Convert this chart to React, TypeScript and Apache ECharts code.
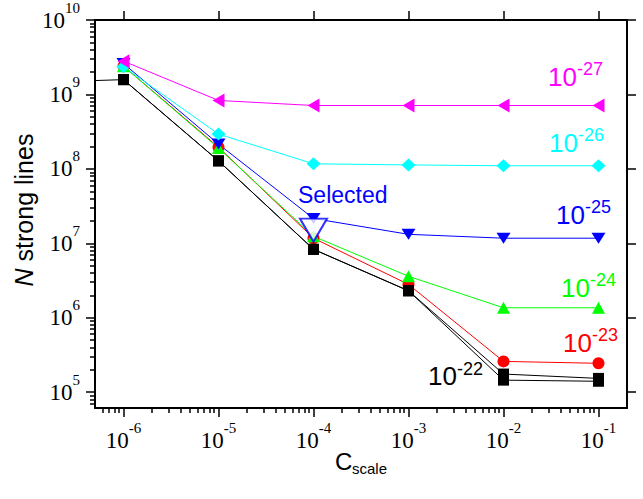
import React, { useEffect, useRef } from 'react';
import * as echarts from 'echarts';

// ---- data ----
const cScale = [1e-6, 1e-5, 1e-4, 1e-3, 1e-2, 1e-1];
const n27 = [2.8e9, 8.3e8, 7.1e8, 7.1e8, 7.1e8, 7.1e8];
const n26 = [2.36e9, 2.93e8, 1.17e8, 1.13e8, 1.1e8, 1.1e8];
const n25 = [2.6e9, 2.15e8, 2.15e7, 1.32e7, 1.17e7, 1.17e7];
const n24 = [2.4e9, 1.9e8, 1.24e7, 3.6e6, 1.36e6, 1.36e6];
const n23 = [2.4e9, 1.95e8, 1.17e7, 2.8e6, 2.59e5, 2.44e5];
const n22a = [1.58e9, 1.28e8, 8.3e6, 2.3e6, 1.75e5, 1.53e5];
const n22b = [1.58e9, 1.28e8, 8.3e6, 2.3e6, 1.45e5, 1.4e5];
const offAxisPoint = [1e-7, 1.44e9];
const selectedPoint = [1e-4, 1.5e7];

const xMajorExp = [-6, -5, -4, -3, -2, -1];
const yMajorExp = [5, 6, 7, 8, 9, 10];
const seriesLabels = ['-27', '-26', '-25', '-24', '-23', '-22'];

const lg = Math.log10;
const X_MIN = -6.3, X_MAX = -0.7, Y_MIN = 4.787, Y_MAX = 10;

function minorTicks(lo: number, hi: number) {
  const out: number[] = [];
  for (let n = Math.floor(lo); n < Math.ceil(hi); n++) {
    for (let k = 2; k <= 9; k++) {
      const v = n + lg(k);
      if (v > lo && v < hi) out.push(v);
    }
  }
  return out;
}

const SERIF = '"Liberation Serif", "Times New Roman", serif';
const SANS = '"Liberation Sans", Arial, sans-serif';

const LEFT_TRI = 'path://M0,5L10,0L10,10Z';
const DOWN_TRI = 'path://M0,0L10,0L5,10Z';

function toPts(ys: number[]) {
  return cScale.map((x, i) => [lg(x), lg(ys[i])]);
}

function lineSeries(name: string, pts: number[][], color: string, symbol: string, size: any) {
  return {
    type: 'line',
    name,
    data: pts,
    symbol,
    symbolSize: size,
    clip: true,
    showSymbol: true,
    itemStyle: { color },
    lineStyle: { color, width: 1 },
    emphasis: { disabled: true },
  };
}

const rich = {
  b: { fontFamily: SERIF, fontSize: 23, lineHeight: 40, color: '#000' },
  s: { fontFamily: SERIF, fontSize: 15, lineHeight: 20, verticalAlign: 'top', color: '#000' },
};
const fmtExp = (v: number) => `{b|10}{s|${Math.round(v)}}`;

export default function App() {
  const ref = useRef<HTMLDivElement>(null);
  useEffect(() => {
    if (!ref.current) return;
    const chart = echarts.init(ref.current, null, { renderer: 'svg' });
    const grid = { left: 95, top: 17, width: 532, height: 391 };
    const axisLine = { show: true, onZero: false, lineStyle: { color: '#000', width: 2 } };
    const majorTick = (vals: number[]) => ({
      show: true, inside: false, length: 9, customValues: vals,
      lineStyle: { color: '#000', width: 1.5 },
    });
    const minorTick = (vals: number[]) => ({
      show: true, inside: false, length: 5, customValues: vals,
      lineStyle: { color: '#000', width: 1.5 },
    });

    const blackA = [[lg(offAxisPoint[0]), lg(offAxisPoint[1])], ...toPts(n22a)];

    const annoColors = ['#ff00ff', '#00ffff', '#0000ff', '#00ff00', '#ff0000', '#000000'];
    const annoPos = [
      [548, 76.5], [549, 142.5], [556, 214.5], [561, 287.5], [563, 342.5], [428, 376],
    ];
    const graphic: any[] = [];
    seriesLabels.forEach((sup, i) => {
      const [x, y] = annoPos[i];
      graphic.push({
        type: 'text', x, y, silent: true,
        style: { text: '10', fill: annoColors[i], font: `26px ${SANS}`, align: 'left', verticalAlign: 'middle', textAlign: 'left', textVerticalAlign: 'middle' },
      });
      graphic.push({
        type: 'text', x: x + 29, y: y - 7.5, silent: true,
        style: { text: sup, fill: annoColors[i], font: `18px ${SANS}`, align: 'left', verticalAlign: 'middle', textAlign: 'left', textVerticalAlign: 'middle' },
      });
    });
    graphic.push({
      type: 'text', x: 298, y: 194.5, silent: true,
      style: { text: 'Selected', fill: '#0000ff', font: `23px ${SANS}`, align: 'left', verticalAlign: 'middle', textAlign: 'left', textVerticalAlign: 'middle' },
    });
    // axis titles
    graphic.push({
      type: 'text', x: 24, y: 210, rotation: Math.PI / 2, silent: true,
      style: {
        text: '{i|N} strong lines',
        align: 'center', verticalAlign: 'middle', textAlign: 'center', textVerticalAlign: 'middle',
        font: `25px ${SANS}`, fill: '#000',
        rich: { i: { fontStyle: 'italic', fontFamily: SANS, fontSize: 25, color: '#000' } },
      },
    });
    graphic.push({
      type: 'text', x: 335, y: 461.5, silent: true,
      style: { text: 'C', fill: '#000', font: `24px ${SANS}`, align: 'left', verticalAlign: 'middle', textAlign: 'left', textVerticalAlign: 'middle' },
    });
    graphic.push({
      type: 'text', x: 352, y: 468, silent: true,
      style: { text: 'scale', fill: '#000', font: `15px ${SANS}`, align: 'left', verticalAlign: 'middle', textAlign: 'left', textVerticalAlign: 'middle' },
    });

    chart.setOption({
      animation: false,
      backgroundColor: '#fff',
      grid,
      xAxis: [
        {
          type: 'value', position: 'bottom', min: X_MIN, max: X_MAX,
          axisLine, axisTick: majorTick(xMajorExp),
          axisLabel: { show: true, customValues: xMajorExp, margin: 12, formatter: fmtExp, rich },
          splitLine: { show: false },
        },
        {
          type: 'value', position: 'top', min: X_MIN, max: X_MAX,
          axisLine, axisTick: majorTick(xMajorExp),
          axisLabel: { show: false }, splitLine: { show: false },
        },
        {
          type: 'value', position: 'bottom', min: X_MIN, max: X_MAX, offset: 0,
          axisLine: { show: false }, axisTick: minorTick(minorTicks(X_MIN, X_MAX)),
          axisLabel: { show: false }, splitLine: { show: false },
        },
      ],
      yAxis: [
        {
          type: 'value', position: 'left', min: Y_MIN, max: Y_MAX,
          axisLine, axisTick: majorTick(yMajorExp),
          axisLabel: { show: true, customValues: yMajorExp, margin: 15, formatter: fmtExp, rich },
          splitLine: { show: false },
        },
        {
          type: 'value', position: 'right', min: Y_MIN, max: Y_MAX,
          axisLine, axisTick: majorTick(yMajorExp),
          axisLabel: { show: false }, splitLine: { show: false },
        },
        {
          type: 'value', position: 'left', min: Y_MIN, max: Y_MAX, offset: 0,
          axisLine: { show: false }, axisTick: minorTick(minorTicks(Y_MIN, Y_MAX)),
          axisLabel: { show: false }, splitLine: { show: false },
        },
      ],
      series: [
        lineSeries('1e-23', toPts(n23), '#ff0000', 'circle', 12),
        lineSeries('1e-24', toPts(n24), '#00ff00', 'triangle', [13, 12]),
        lineSeries('1e-22b', toPts(n22b), '#000000', 'rect', 11),
        lineSeries('1e-22', blackA, '#000000', 'rect', 11),
        lineSeries('1e-25', toPts(n25), '#0000ff', DOWN_TRI, [14, 11]),
        lineSeries('1e-26', toPts(n26), '#00ffff', 'diamond', [14, 13]),
        lineSeries('1e-27', toPts(n27), '#ff00ff', LEFT_TRI, [12, 14]),
        {
          type: 'scatter', name: 'Selected',
          data: [[lg(selectedPoint[0]), lg(selectedPoint[1])]],
          symbol: DOWN_TRI, symbolSize: [27, 23],
          itemStyle: { color: '#ffffff', borderColor: '#0000ff', borderWidth: 2 },
          emphasis: { disabled: true },
          z: 5,
        },
      ],
      graphic,
    });
    return () => chart.dispose();
  }, []);
  return (
    <div
      ref={ref}
      style={{ position: 'fixed', left: 0, top: 0, width: 643, height: 499, background: '#fff' }}
    />
  );
}
